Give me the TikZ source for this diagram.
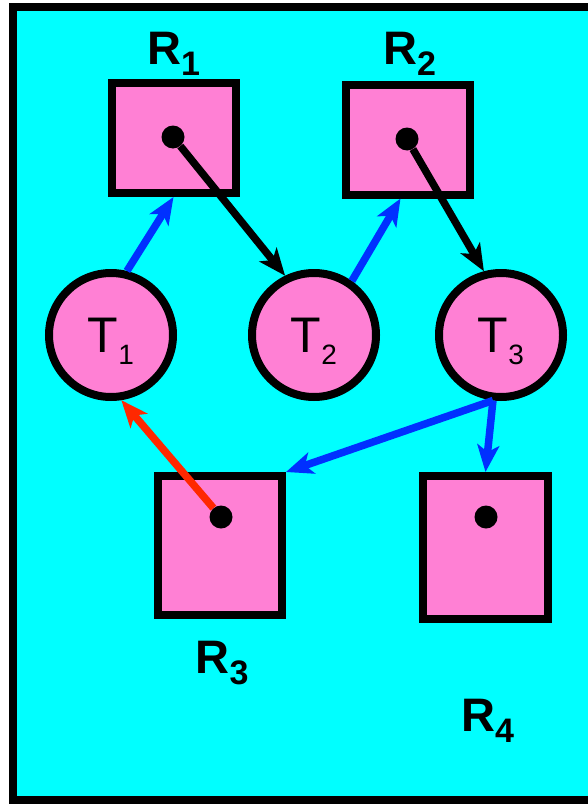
\documentclass[tikz,border=0pt]{standalone}
\usepackage{fontspec}
\setmainfont{Liberation Sans}
\usetikzlibrary{arrows.meta}
\definecolor{bgcyan}{RGB}{0,255,255}
\definecolor{respink}{RGB}{255,128,212}
\definecolor{reqblue}{RGB}{0,48,255}
\definecolor{heldred}{RGB}{255,40,0}
\newcommand{\tsub}[1]{\raisebox{-12pt}{\fontsize{28}{28}\selectfont #1}}
\newcommand{\rsub}[1]{\raisebox{-11.5pt}{\fontsize{34}{34}\selectfont #1}}
\begin{document}
\begin{tikzpicture}[x=1pt,y=-1pt,
  res/.style={draw,fill=respink,line width=8pt,minimum width=124pt,inner sep=0pt},
  proc/.style={draw,circle,fill=respink,line width=8pt,minimum size=124pt,
    inner sep=0pt,text depth=0pt,font=\fontsize{50}{50}\selectfont},
  holddot/.style={circle,fill=black,minimum size=23pt,inner sep=0pt},
  lab/.style={anchor=base,inner sep=0pt,font=\fontsize{47}{47}\selectfont\bfseries},
  arr/.style={line width=7.5pt,-{Stealth[length=27pt,width=22pt,inset=7pt]}}]
\useasboundingbox (0,0) rectangle (587,808);
\draw[line width=8pt,fill=bgcyan] (12.5,7.5) rectangle (640,800);
\node[res,minimum height=110pt] (r1) at (173.5,138) {};
\node[res,minimum height=110pt] (r2) at (407.5,139.5) {};
\node[res,minimum height=139pt] (r3) at (220,545.5) {};
\node[res,minimum height=143pt,minimum width=125pt] (r4) at (485.5,547.5) {};
\node[proc] (t1) at (111,335) {T\tsub{1}};
\node[proc] (t2) at (314,335) {T\tsub{2}};
\node[proc] (t3) at (501,335) {T\tsub{3}};
\node[holddot] (d1) at (173,137) {};
\node[holddot] (d2) at (407,139) {};
\node[holddot] (d3) at (221,517) {};
\node[holddot] (d4) at (486,517) {};
\node[lab] (l1) at (173.5,64) {R\rsub{1}};
\node[lab] (l2) at (409.5,64) {R\rsub{2}};
\node[lab] (l3) at (222,673) {R\rsub{3}};
\node[lab] (l4) at (487.5,731) {R\rsub{4}};
\draw[arr,reqblue] (t1.76) -- (r1.south);
\draw[arr,reqblue] (t2.55) -- ([xshift=-7pt]r2.south);
\draw[arr] (d1) -- (t2.116);
\draw[arr] (d2) -- (t3.105);
\draw[arr,reqblue] (t3.263) -- (r3.north east);
\draw[arr,reqblue] (t3.263) -- (r4.north);
\draw[arr,heldred] (d3) -- (t1.279);
\end{tikzpicture}
\end{document}
